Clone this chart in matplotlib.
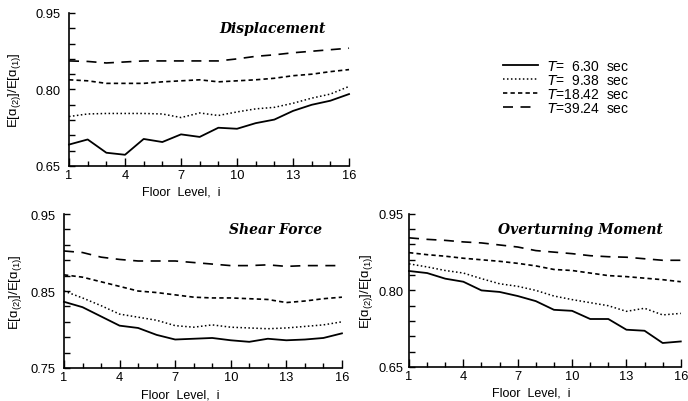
import numpy as np
from matplotlib import pyplot as plt

################################################################################
# data

floors = np.arange(1, 17)
periods = ['6.30', '9.38', '18.42', '39.24']

disp_630 = [0.692, 0.702, 0.676, 0.672, 0.703, 0.697, 0.712, 0.707,
			0.725, 0.723, 0.734, 0.741, 0.758, 0.770, 0.778, 0.791]
disp_938 = [0.747, 0.752, 0.753, 0.753, 0.753, 0.752, 0.745, 0.754,
			0.749, 0.756, 0.762, 0.765, 0.773, 0.783, 0.791, 0.806]
disp_1842 = [0.819, 0.817, 0.812, 0.812, 0.812, 0.815, 0.817, 0.819,
			0.815, 0.817, 0.819, 0.822, 0.827, 0.830, 0.835, 0.839]
disp_3924 = [0.856, 0.855, 0.852, 0.854, 0.856, 0.856, 0.856, 0.856,
			0.856, 0.860, 0.865, 0.868, 0.872, 0.875, 0.878, 0.881]

shear_630 = [0.836, 0.829, 0.817, 0.805, 0.802, 0.793, 0.787, 0.788,
			0.789, 0.786, 0.784, 0.788, 0.786, 0.787, 0.789, 0.795]
shear_938 = [0.850, 0.841, 0.831, 0.820, 0.816, 0.812, 0.805, 0.803,
			0.806, 0.803, 0.802, 0.801, 0.802, 0.804, 0.806, 0.810]
shear_1842 = [0.871, 0.868, 0.862, 0.856, 0.850, 0.848, 0.845, 0.842,
			0.841, 0.841, 0.840, 0.839, 0.835, 0.837, 0.840, 0.842]
shear_3924 = [0.902, 0.900, 0.894, 0.891, 0.889, 0.889, 0.889, 0.887,
			0.885, 0.883, 0.883, 0.884, 0.882, 0.883, 0.883, 0.883]

over_630 = [0.838, 0.834, 0.823, 0.817, 0.800, 0.797, 0.789, 0.779,
			0.762, 0.760, 0.744, 0.744, 0.723, 0.721, 0.697, 0.700]
over_938 = [0.852, 0.846, 0.839, 0.834, 0.823, 0.813, 0.808, 0.800,
			0.789, 0.782, 0.776, 0.770, 0.759, 0.765, 0.752, 0.755]
over_1842 = [0.874, 0.870, 0.867, 0.863, 0.860, 0.857, 0.853, 0.848,
			0.841, 0.839, 0.834, 0.829, 0.827, 0.824, 0.821, 0.817]
over_3924 = [0.903, 0.900, 0.898, 0.895, 0.893, 0.889, 0.885, 0.878,
			0.875, 0.872, 0.868, 0.866, 0.865, 0.862, 0.859, 0.859]

################################################################################

styles = [dict(linestyle = '-', linewidth = 1.3),
		dict(linestyle = (0, (1, 1.6)), linewidth = 1.1),
		dict(linestyle = (0, (2.6, 1.9)), linewidth = 1.2),
		dict(linestyle = (0, (6, 4.5)), linewidth = 1.2)]

def setup_axes(ax, y_min, y_max, y_step, title, title_x, xlabel_x, ylabel_x,
				ypad = 6):
	for side in ['top', 'right']:
		ax.spines[side].set_visible(False)
	for side in ['left', 'bottom']:
		ax.spines[side].set_linewidth(1.2)
	ax.set_xlim(1, 16)
	ax.set_ylim(y_min, y_max)
	ax.set_xticks([1, 4, 7, 10, 13, 16])
	ax.set_xticks(floors, minor = True)
	y_ticks = np.arange(y_min, y_max + y_step/2, y_step)
	mid = (y_min + y_max)/2
	ax.set_yticks(y_ticks)
	ax.set_yticklabels([f'{v:.2f}' if np.isclose(v, y_min) or
						np.isclose(v, y_max) or np.isclose(v, mid) else ''
						for v in y_ticks])
	ax.tick_params(axis = 'both', which = 'both', direction = 'in',
					labelsize = 9.3, width = 1.0)
	ax.tick_params(axis = 'x', which = 'major', length = 6, pad = 2)
	ax.tick_params(axis = 'x', which = 'minor', length = 3.5)
	ax.tick_params(axis = 'y', length = 4, pad = ypad)
	ax.set_xlabel('Floor  Level,  i', fontsize = 9)
	ax.xaxis.set_label_coords(xlabel_x, -0.13)
	ax.set_ylabel('E[ɑ$_{(2)}$]/E[ɑ$_{(1)}$]', fontsize = 9.5)
	ax.yaxis.set_label_coords(ylabel_x, 0.5)
	ax.text(title_x, 0.90, title, transform = ax.transAxes,
			ha = 'right', va = 'center', fontsize = 10,
			family = 'DejaVu Serif', style = 'italic', weight = 'bold')

################################################################################

if __name__ == '__main__':
	plt.rcParams['font.family'] = ['Liberation Sans', 'DejaVu Sans']
	plt.rcParams['mathtext.default'] = 'regular'
	fig = plt.figure(figsize = (6.88, 4.02), dpi = 100)
	ax_disp = fig.add_axes([0.1003, 0.5846, 0.407, 0.3806])
	ax_shear = fig.add_axes([0.093, 0.0821, 0.404, 0.383])
	ax_over = fig.add_axes([0.5945, 0.0846, 0.395, 0.381])

	panels = [(ax_disp, [disp_630, disp_938, disp_1842, disp_3924]),
			(ax_shear, [shear_630, shear_938, shear_1842, shear_3924]),
			(ax_over, [over_630, over_938, over_1842, over_3924])]
	for ax, series in panels:
		for index, values in enumerate(series):
			ax.plot(floors, values, color = 'black', clip_on = False,
					**styles[index])

	setup_axes(ax_disp, 0.65, 0.95, 0.03, 'Displacement', 0.915, 0.40, -0.165)
	setup_axes(ax_shear, 0.75, 0.95, 0.02, 'Shear Force', 0.928, 0.42, -0.145)
	setup_axes(ax_over, 0.65, 0.95, 0.03, 'Overturning Moment', 0.934, 0.45,
				-0.125, ypad = 4)

	# legend
	labels = ['$\\mathit{T}$=' + p.rjust(5).replace(' ', '  ') + '  sec'
			for p in periods]
	fig.legend(ax_disp.get_lines(), labels,
				loc = 'upper left', bbox_to_anchor = (0.731, 0.85),
				frameon = False, fontsize = 10, handlelength = 2.5,
				handletextpad = 0.7, labelspacing = 0.0,
				borderpad = 0, borderaxespad = 0)

	plt.savefig('out.png', dpi = 100)

################################################################################
# EOF
